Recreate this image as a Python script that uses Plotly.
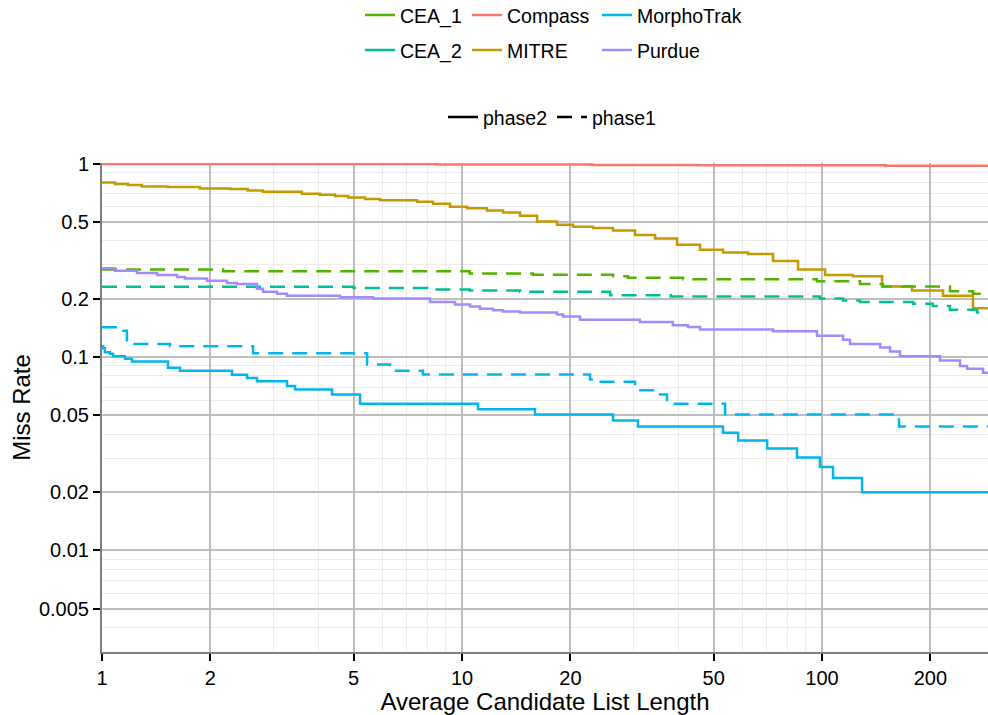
import plotly.graph_objects as go

# ---------------- data ----------------
companies = ["CEA_1", "CEA_2", "Compass", "MITRE", "MorphoTrak", "Purdue"]
company_colors = ["#53B400", "#00C094", "#F8766D", "#C49A00", "#00B6EB", "#A58AFF"]
phases = ["phase2", "phase1"]

compass_p2_x = [1, 8.5, 23, 45, 150, 289]
compass_p2_y = [0.997, 0.99, 0.985, 0.982, 0.976, 0.976]

mitre_p2_x = [1, 1.087, 1.18, 1.29, 1.52, 1.87, 2.27, 2.54, 2.80, 3.59, 4.03, 4.44, 4.83, 5.38,
              5.92, 7.5, 8.31, 9.26, 10.33, 11.73, 13.0, 14.49, 16.16, 18.36, 20.34, 23.12, 26.27,
              30.24, 34.37, 39.56, 45.83, 53.09, 62.3, 73.1, 85.8, 102, 121.9, 146.8, 177.8, 216.8,
              262.6, 289]
mitre_p2_y = [0.80, 0.785, 0.776, 0.763, 0.758, 0.745, 0.74, 0.728, 0.717, 0.70, 0.691, 0.681, 0.67,
              0.657, 0.648, 0.636, 0.621, 0.600, 0.588, 0.573, 0.56, 0.539, 0.503, 0.484, 0.472,
              0.465, 0.452, 0.428, 0.411, 0.381, 0.359, 0.348, 0.341, 0.314, 0.284, 0.266, 0.262,
              0.232, 0.221, 0.208, 0.179, 0.179]

cea1_p1_x = [1, 2.17, 10.5, 15.75, 26.3, 28.9, 41.1, 96.8, 127.5, 147.7, 226.7, 262.6, 289]
cea1_p1_y = [0.284, 0.278, 0.271, 0.267, 0.262, 0.257, 0.253, 0.247, 0.239, 0.232, 0.219, 0.213, 0.213]

cea2_p1_x = [1, 5.0, 8.0, 10.5, 14.5, 25.8, 38, 98.7, 114.4, 127.5, 179, 203, 226.7, 269.5, 289]
cea2_p1_y = [0.231, 0.228, 0.224, 0.221, 0.218, 0.209, 0.206, 0.201, 0.196, 0.193, 0.189, 0.184,
             0.176, 0.170, 0.170]

purdue_p2_x = [1, 1.087, 1.251, 1.422, 1.616, 1.70, 1.957, 2.225, 2.371, 2.695, 2.80, 3.063, 3.265,
               4.583, 5.66, 8.15, 9.56, 10.53, 11.22, 12.2, 13.0, 14.49, 18.36, 19.08, 21.27, 31.2,
               38.5, 42.4, 45.83, 73.1, 96.8, 114.4, 119.6, 145, 154.5, 164.7, 212.7, 241.7, 252.8,
               280, 289]
purdue_p2_y = [0.288, 0.280, 0.272, 0.266, 0.260, 0.255, 0.248, 0.242, 0.239, 0.226, 0.218, 0.213,
               0.208, 0.204, 0.201, 0.193, 0.187, 0.183, 0.178, 0.175, 0.172, 0.170, 0.166, 0.162,
               0.156, 0.152, 0.146, 0.143, 0.139, 0.136, 0.129, 0.123, 0.117, 0.112, 0.107, 0.101,
               0.096, 0.090, 0.087, 0.083, 0.083]

morpho_p1_x = [1, 1.144, 1.173, 1.545, 2.627, 5.45, 6.31, 7.79, 22.68, 23.9, 30.24, 35.5, 37.1,
               53.8, 163.6, 289]
morpho_p1_y = [0.1426, 0.137, 0.117, 0.114, 0.1048, 0.0917, 0.0851, 0.0814, 0.0767, 0.0745, 0.0675,
               0.064, 0.0574, 0.0505, 0.0438, 0.0438]

morpho_p2_x = [1, 1.008, 1.019, 1.052, 1.073, 1.158, 1.211, 1.525, 1.647, 2.297, 2.528, 2.695,
               3.265, 3.437, 4.355, 5.21, 11.08, 15.95, 26.27, 30.8, 53.09, 58.5, 70.4, 85.2, 98.7,
               107.3, 129.2, 289]
morpho_p2_y = [0.114, 0.111, 0.106, 0.104, 0.101, 0.098, 0.095, 0.088, 0.085, 0.081, 0.078, 0.075,
               0.071, 0.068, 0.064, 0.0574, 0.0537, 0.0505, 0.047, 0.0438, 0.0406, 0.037, 0.0337,
               0.0303, 0.027, 0.0237, 0.020, 0.020]

x_tickvals = [1, 2, 5, 10, 20, 50, 100, 200]
x_ticktext = ["1", "2", "5", "10", "20", "50", "100", "200"]
x_minor = [3, 4, 6, 7, 8, 9, 30, 40, 60, 70, 80, 90]
y_tickvals = [0.005, 0.01, 0.02, 0.05, 0.1, 0.2, 0.5, 1]
y_ticktext = ["0.005", "0.01", "0.02", "0.05", "0.1", "0.2", "0.5", "1"]
y_minor = [0.003, 0.004, 0.006, 0.007, 0.008, 0.009, 0.03, 0.04, 0.06, 0.07, 0.08, 0.09,
           0.3, 0.4, 0.6, 0.7, 0.8, 0.9]

series = [
    ("Compass", "phase2", compass_p2_x, compass_p2_y),
    ("MITRE", "phase2", mitre_p2_x, mitre_p2_y),
    ("CEA_1", "phase1", cea1_p1_x, cea1_p1_y),
    ("CEA_2", "phase1", cea2_p1_x, cea2_p1_y),
    ("Purdue", "phase2", purdue_p2_x, purdue_p2_y),
    ("MorphoTrak", "phase1", morpho_p1_x, morpho_p1_y),
    ("MorphoTrak", "phase2", morpho_p2_x, morpho_p2_y),
]

# ---------------- styling ----------------
FONT = "Liberation Sans, Arial, Helvetica, sans-serif"
color_of = dict(zip(companies, company_colors))
DASH = {"phase2": "solid", "phase1": "15px,9px"}
LW = 2.5

fig = go.Figure()
for name, ph, xs, ys in series:
    fig.add_trace(go.Scatter(
        x=xs, y=ys, mode="lines", line=dict(color=color_of[name], width=LW, dash=DASH[ph], shape="hv"),
        showlegend=False, hoverinfo="skip"))

# colour legends (3 columns of 2)
legend_cols = ["legend", "legend2", "legend3"]
for i, name in enumerate(companies):
    fig.add_trace(go.Scatter(
        x=[None], y=[None], mode="lines", name=name,
        line=dict(color=color_of[name], width=LW),
        legend=legend_cols[i // 2], legendgroup=name, showlegend=True))

# linetype legend
for ph in phases:
    fig.add_trace(go.Scatter(
        x=[None], y=[None], mode="lines", name=ph,
        line=dict(color="black", width=LW, dash=DASH[ph]),
        legend="legend4", showlegend=True))

L, R, T, B = 102, 0, 163, 63
W, H = 988, 715
pw, ph_ = W - L - R, H - T - B

def px_x(p):
    return (p - L) / pw

def px_y(p):
    return (H - B - p) / ph_

LEG_FONT = dict(family=FONT, size=19.5, color="black")
leg_common = dict(font=LEG_FONT, bgcolor="rgba(0,0,0,0)", borderwidth=0,
                  xanchor="left", yanchor="top", tracegroupgap=6.65,
                  orientation="v", traceorder="grouped", itemclick=False)

fig.update_layout(
    width=W, height=H,
    margin=dict(l=L, r=R, t=T, b=B, autoexpand=False),
    paper_bgcolor="white", plot_bgcolor="white",
    font=dict(family=FONT, color="black"),
    legend=dict(x=px_x(360), y=px_y(-4.2), **leg_common),
    legend2=dict(x=px_x(467), y=px_y(-4.2), **leg_common),
    legend3=dict(x=px_x(597), y=px_y(-4.2), **leg_common),
    legend4=dict(x=px_x(443), y=px_y(97.8), font=LEG_FONT, bgcolor="rgba(0,0,0,0)",
                 xanchor="left", yanchor="top", orientation="h", itemclick=False),
    xaxis=dict(
        type="log", range=[0, 2.461],
        tickmode="array", tickvals=x_tickvals, ticktext=x_ticktext,
        tickfont=dict(family=FONT, size=20, color="black"),
        ticks="outside", ticklen=7, tickwidth=2, tickcolor="black",
        showline=True, linecolor="#7f7f7f", linewidth=2,
        showgrid=True, gridcolor="#bebebe", gridwidth=2,
        minor=dict(tickmode="array", tickvals=x_minor, showgrid=True,
                   gridcolor="#ebebeb", gridwidth=1, ticks=""),
        zeroline=False,
        title=dict(text="Average Candidate List Length",
                   font=dict(family=FONT, size=24, color="black"), standoff=3),
    ),
    yaxis=dict(
        type="log", range=[-2.525, 0.004],
        tickmode="array", tickvals=y_tickvals, ticktext=y_ticktext,
        tickfont=dict(family=FONT, size=20, color="black"),
        ticks="outside", ticklen=7, tickwidth=2, tickcolor="black",
        showline=True, linecolor="#7f7f7f", linewidth=2,
        showgrid=True, gridcolor="#bebebe", gridwidth=2,
        minor=dict(tickmode="array", tickvals=y_minor, showgrid=True,
                   gridcolor="#ebebeb", gridwidth=1, ticks=""),
        zeroline=False,
        title=dict(text="Miss Rate", font=dict(family=FONT, size=24, color="black"), standoff=2),
    ),
)

fig.write_html("out.html")
